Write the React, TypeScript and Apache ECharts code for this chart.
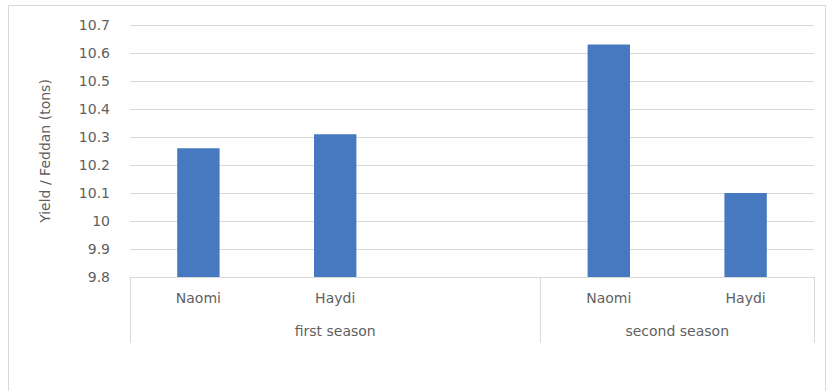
import React, { useEffect, useRef } from "react";
import * as echarts from "echarts";

const categories = ["Naomi", "Haydi", "", "Naomi", "Haydi"];
const yields: (number | null)[] = [10.26, 10.31, null, 10.63, 10.1];
const seasons = ["first season", "second season"];
const seasonSpans = [3, 2];
const yMin = 9.8;
const yMax = 10.7;
const yStep = 0.1;
const yTitle = "Yield / Feddan (tons)";

const FONT = "DejaVu Sans";
const GREY = "#5f5f5f";
const LINE = "#d9d9d9";
const FS = 14;

export default function App() {
  const ref = useRef<HTMLDivElement>(null);
  useEffect(() => {
    if (!ref.current) return;
    const chart = echarts.init(ref.current, undefined, { renderer: "svg" });
    const bounds: number[] = [0];
    const centers: number[] = [];
    seasonSpans.forEach((s) => {
      const start = bounds[bounds.length - 1];
      centers.push(start + s / 2);
      bounds.push(start + s);
    });
    chart.setOption({
      animation: false,
      backgroundColor: "#ffffff",
      graphic: [
        {
          type: "rect",
          shape: { x: 8.5, y: 5.5, width: 817, height: 420 },
          style: { fill: "none", stroke: LINE, lineWidth: 1 },
          silent: true,
        },
      ],
      grid: { left: 130, right: 18, top: 25, bottom: 114 },
      xAxis: [
        {
          type: "category",
          data: categories,
          axisLine: { show: true, lineStyle: { color: LINE } },
          axisTick: { show: false },
          axisLabel: { color: GREY, fontFamily: FONT, fontSize: FS, margin: 14 },
          splitLine: { show: false },
        },
        {
          type: "value",
          position: "bottom",
          min: 0,
          max: bounds[bounds.length - 1],
          axisLine: { show: false },
          splitLine: { show: false },
          axisTick: {
            show: true,
            customValues: bounds,
            length: 66,
            lineStyle: { color: LINE },
          },
          axisLabel: {
            customValues: centers,
            color: GREY,
            fontFamily: FONT,
            fontSize: FS,
            margin: 47,
            formatter: (v: number) => {
              const i = centers.indexOf(v);
              return i >= 0 ? seasons[i] : "";
            },
          },
        },
      ],
      yAxis: {
        type: "value",
        min: yMin,
        max: yMax,
        interval: yStep,
        name: yTitle,
        nameLocation: "middle",
        nameGap: 78,
        nameTextStyle: { color: GREY, fontFamily: FONT, fontSize: FS },
        axisLine: { show: false },
        axisTick: { show: false },
        axisLabel: { color: GREY, fontFamily: FONT, fontSize: FS, margin: 20 },
        splitLine: { show: true, lineStyle: { color: LINE } },
      },
      series: [
        {
          type: "bar",
          xAxisIndex: 0,
          data: yields,
          barWidth: "31%",
          itemStyle: { color: "#4679bf" },
        },
      ],
    });
    return () => chart.dispose();
  }, []);
  return (
    <div
      ref={ref}
      style={{ position: "fixed", left: 0, top: 0, width: 832, height: 391 }}
    />
  );
}
